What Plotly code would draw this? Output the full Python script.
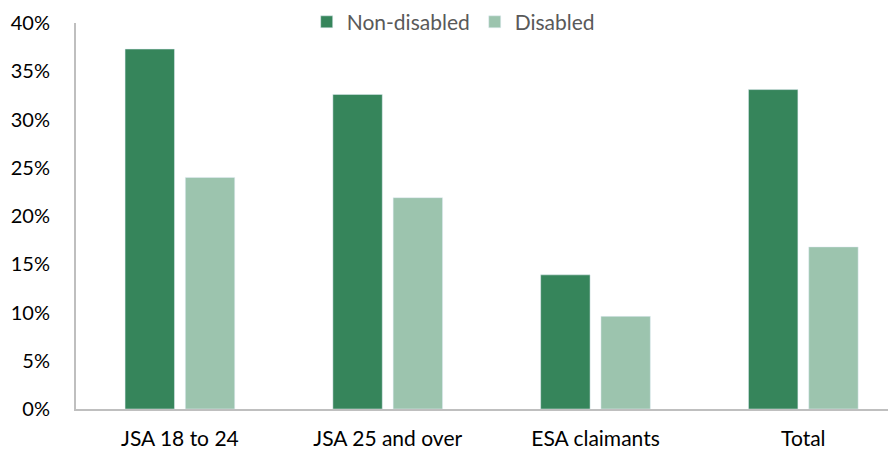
import plotly.graph_objects as go

categories = ["JSA 18 to 24", "JSA 25 and over", "ESA claimants", "Total"]
non_disabled = [37.3, 32.6, 13.9, 33.1]
disabled = [24.0, 21.9, 9.6, 16.8]
tick_vals = [0, 5, 10, 15, 20, 25, 30, 35, 40]
tick_text = [f"{v}%" for v in tick_vals]

fig = go.Figure()
fig.add_trace(go.Bar(name="Non-disabled", x=categories, y=non_disabled, marker_color="#36855B"))
fig.add_trace(go.Bar(name="Disabled", x=categories, y=disabled, marker_color="#9CC4AE"))

fig.update_layout(
    width=888, height=443,
    margin=dict(l=68, r=0, t=15, b=42, autoexpand=False),
    paper_bgcolor="white", plot_bgcolor="white",
    barmode="group", bargap=0.42, bargroupgap=0.18,
    font=dict(family="Lato, Open Sans, sans-serif", size=21, color="#000000"),
    legend=dict(orientation="h", x=0.46, xanchor="center", yref="container", y=0.968, yanchor="middle",
                font=dict(size=21, color="#595959"), itemwidth=30, traceorder="normal"),
    showlegend=True,
)
fig.update_xaxes(range=[-0.5, 3.446], showline=True, linecolor="#BFBFBF", linewidth=2, ticks="",
                 showgrid=False, automargin=False, ticklabelstandoff=10)
fig.update_yaxes(range=[0, 40], tickvals=tick_vals, ticktext=tick_text, showline=True,
                 linecolor="#BFBFBF", linewidth=2, showgrid=False, ticks="", zeroline=False,
                 automargin=False, ticklabelstandoff=20, tickfont=dict(size=20))

fig.write_html("out.html")
